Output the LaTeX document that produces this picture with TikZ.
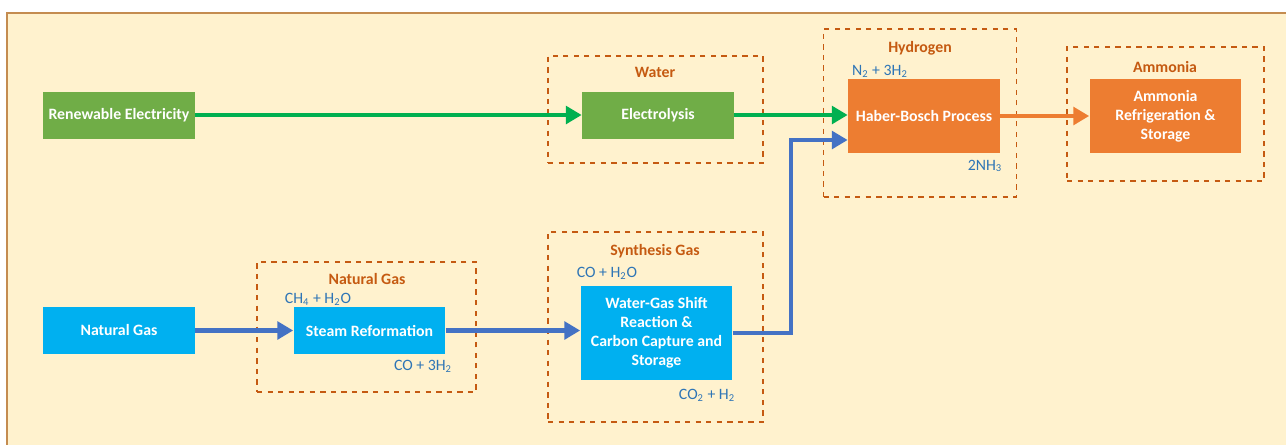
\documentclass[tikz,border=0pt]{standalone}
\usepackage{fontspec}
\setmainfont{Carlito}
\usetikzlibrary{arrows.meta}

\definecolor{panelfill}{RGB}{255,242,206}
\definecolor{panelline}{RGB}{196,140,80}
\definecolor{greenbox}{RGB}{112,173,71}
\definecolor{cyanbox}{RGB}{0,176,240}
\definecolor{orangebox}{RGB}{237,125,49}
\definecolor{framecol}{RGB}{197,90,17}
\definecolor{chemcol}{RGB}{46,117,182}
\definecolor{greenarrow}{RGB}{0,176,80}
\definecolor{bluearrow}{RGB}{68,114,196}

\begin{document}
\begin{tikzpicture}[x=0.02cm, y=-0.02cm,
    box/.style={draw=none, minimum width=3.04cm, minimum height=0.94cm, inner sep=1pt,
      align=center, text=white, font=\fontsize{9}{10.8}\selectfont\bfseries},
    frame/.style={draw=framecol, dashed, line width=0.6pt},
    framelabel/.style={text=framecol, font=\fontsize{9}{10.8}\selectfont\bfseries},
    chem/.style={text=chemcol, font=\fontsize{9}{10.8}\selectfont, inner sep=0pt},
    flow/.style={line width=2.8pt, -{Triangle[length=9pt, width=10pt]}}]
    \useasboundingbox (0,0) rectangle (1286,444);
    \fill[panelfill, draw=panelline, line width=1pt] (7,13) rectangle (1300,460);

    % Frames
    \node[frame, minimum width=4.3cm, minimum height=2.14cm] (waterframe) at (655.5,109.5) {};
    \node[frame, minimum width=3.86cm, minimum height=3.36cm] (h2frame) at (920,113) {};
    \node[frame, minimum width=3.94cm, minimum height=2.68cm] (nh3frame) at (1165.5,114) {};
    \node[frame, minimum width=4.38cm, minimum height=2.6cm] (ngframe) at (366.5,327) {};
    \node[frame, minimum width=4.3cm, minimum height=3.8cm] (syngasframe) at (655.5,327) {};

    \node[framelabel] (waterlbl) at (655,72) {Water};
    \node[framelabel] (h2lbl) at (920,48) {Hydrogen};
    \node[framelabel] (nh3lbl) at (1165,67) {Ammonia};
    \node[framelabel] (nglbl) at (367,279) {Natural Gas};
    \node[framelabel] (syngaslbl) at (655,251) {Synthesis Gas};

    % Boxes
    \node[box, fill=greenbox] (renew) at (119,115) {Renewable Electricity};
    \node[box, fill=greenbox] (electro) at (658,115) {Electrolysis};
    \node[box, fill=orangebox, minimum height=1.48cm] (haber) at (924,116) {Haber-Bosch Process};
    \node[box, fill=orangebox, minimum height=1.48cm] (ammonia) at (1165.5,116) {Ammonia\\Refrigeration \&\\Storage};
    \node[box, fill=cyanbox] (natgas) at (119,330.5) {Natural Gas};
    \node[box, fill=cyanbox] (steam) at (369.5,330.5) {Steam Reformation};
    \node[box, fill=cyanbox, minimum height=1.88cm] (wgs) at (656.5,333) {Water-Gas Shift\\Reaction \&\\Carbon Capture and\\Storage};

    % Chemistry
    \node[chem] (haberin) at (880,71) {N\textsubscript{2} + 3H\textsubscript{2}};
    \node[chem] (haberout) at (985,166) {2NH\textsubscript{3}};
    \node[chem] (steamin) at (318,299) {CH\textsubscript{4} + H\textsubscript{2}O};
    \node[chem] (steamout) at (423,366) {CO + 3H\textsubscript{2}};
    \node[chem] (wgsin) at (607,273) {CO + H\textsubscript{2}O};
    \node[chem] (wgsout) at (707,395) {CO\textsubscript{2} + H\textsubscript{2}};

    % Arrows
    \coordinate (bend) at (791,140);
    \draw[flow, greenarrow] (renew) -- (electro);
    \draw[flow, greenarrow] (electro) -- (electro -| haber.west);
    \draw[flow, orangebox] (haber) -- (ammonia);
    \draw[flow, bluearrow] (natgas) -- (steam);
    \draw[flow, bluearrow] (steam) -- (steam -| wgs.west);
    \draw[flow, bluearrow] (wgs.east) -| (bend) -- (bend -| haber.west);

  \end{tikzpicture}
\end{document}
